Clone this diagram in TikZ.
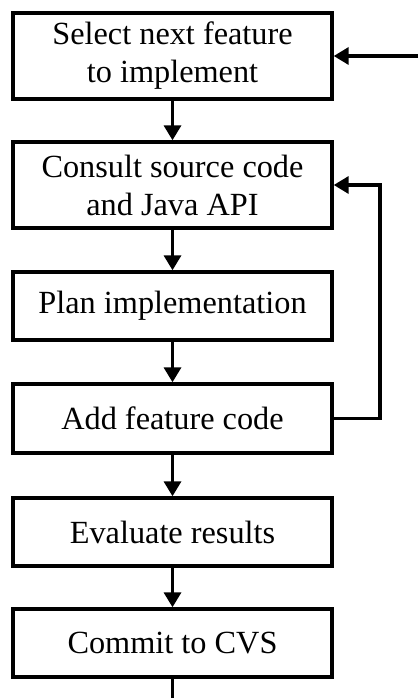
\documentclass[tikz,border=0pt]{standalone}
\usepackage{fontspec}
\setmainfont{Liberation Serif}
\usetikzlibrary{arrows.meta}
\begin{document}
\begin{tikzpicture}[x=1pt,y=-1pt,
  stepbox/.style={draw,line width=3.4pt,minimum width=319pt,inner sep=0pt,align=center,font=\fontsize{32.3}{38}\selectfont},
  conn/.style={line width=3.4pt,-{Triangle[length=15pt,width=17pt]}}]
\useasboundingbox (0,0) rectangle (418,698);
\node[stepbox,minimum height=86pt] (s1) at (172.5,56) {Select next feature\\to implement};
\node[stepbox,minimum height=86pt] (s2) at (172.5,185) {Consult source code\\and Java API};
\node[stepbox,minimum height=68pt] (s3) at (172.5,306) {Plan implementation};
\node[stepbox,minimum height=69pt] (s4) at (172.5,418.5) {Add feature code};
\node[stepbox,minimum height=68pt] (s5) at (172.5,532) {Evaluate results};
\node[stepbox,minimum height=68pt] (s6) at (172.5,643) {Commit to CVS};
\coordinate (inR) at (418,56);
\coordinate (outB) at (172.5,698);
\draw[conn] (s1) -- (s2);
\draw[conn] (s2) -- (s3);
\draw[conn] (s3) -- (s4);
\draw[conn] (s4) -- (s5);
\draw[conn] (s5) -- (s6);
\draw[line width=3.4pt] (s6.south) -- (outB);
\draw[conn] (inR) -- (s1.east |- inR);
\draw[conn] (s4.east) -- (380,418.5) -- (380,185) -- (s2.east |- 0,185);
\end{tikzpicture}
\end{document}
